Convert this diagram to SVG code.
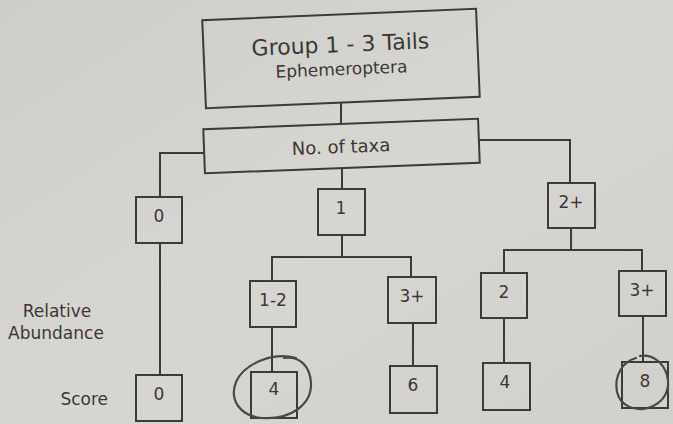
<svg xmlns="http://www.w3.org/2000/svg" width="673" height="424" viewBox="0 0 673 424">
<defs>
<linearGradient id="bg" x1="0" y1="0" x2="1" y2="1">
<stop offset="0" stop-color="#cfcdca"/>
<stop offset="0.5" stop-color="#d8d6d3"/>
<stop offset="1" stop-color="#d2d0cd"/>
</linearGradient>
<style>
.box{fill:none;stroke:#3d3b39;stroke-width:2}
.ln{fill:none;stroke:#3d3b39;stroke-width:2}
.t{font-family:"DejaVu Sans","Liberation Sans",sans-serif;fill:#3a3836;text-anchor:middle}
.n{font-size:17px}
.lab{font-family:"DejaVu Sans","Liberation Sans",sans-serif;fill:#3a3836;font-size:17px}
.pen{fill:none;stroke:#4a4846;stroke-width:2.2;stroke-linecap:round}
</style>
</defs>
<rect width="673" height="424" fill="url(#bg)"/>

<g id="connectors">
<path class="ln" d="M341 102 V124"/>
<path class="ln" d="M204 153 H160 V197"/>
<path class="ln" d="M342 168 V189"/>
<path class="ln" d="M479 140 H570 V183"/>
<path class="ln" d="M160 243 V375"/>
<path class="ln" d="M342 235 V257 M272 281 V257 H411 V277"/>
<path class="ln" d="M272 327 V372"/>
<path class="ln" d="M413 323 V366"/>
<path class="ln" d="M571 228 V250 M504 273 V250 H642 V271"/>
<path class="ln" d="M504 318 V363"/>
<path class="ln" d="M643 316 V362"/>
</g>

<g id="group-title" transform="rotate(-2.4 341 58.5)">
<rect class="box" x="204" y="14.5" width="274" height="88"/>
<text class="t" x="341" y="52" font-size="22">Group 1 - 3 Tails</text>
<text class="t" x="341" y="75" font-size="17">Ephemeroptera</text>
</g>

<g id="no-of-taxa" transform="rotate(-2.2 341.5 146)">
<rect class="box" x="204" y="124" width="275" height="44"/>
<text class="t" x="341" y="153" font-size="18">No. of taxa</text>
</g>

<g id="taxa-0"><rect class="box" x="136" y="197" width="46" height="46"/><text class="t n" x="159" y="222">0</text></g>
<g id="taxa-1"><rect class="box" x="318" y="189" width="47" height="46"/><text class="t n" x="341" y="214">1</text></g>
<g id="taxa-2plus"><rect class="box" x="548" y="183" width="47" height="45"/><text class="t n" x="571" y="208">2+</text></g>

<g id="ab-1-2"><rect class="box" x="250" y="281" width="46" height="46"/><text class="t n" x="273" y="306">1-2</text></g>
<g id="ab-3plus-a"><rect class="box" x="388" y="277" width="48" height="46"/><text class="t n" x="412" y="302">3+</text></g>
<g id="ab-2"><rect class="box" x="481" y="273" width="46" height="45"/><text class="t n" x="504" y="298">2</text></g>
<g id="ab-3plus-b"><rect class="box" x="619" y="271" width="47" height="45"/><text class="t n" x="642" y="296">3+</text></g>

<g id="score-0"><rect class="box" x="136" y="375" width="46" height="46"/><text class="t n" x="159" y="400">0</text></g>
<g id="score-4a"><rect class="box" x="251" y="372" width="46" height="46"/><text class="t n" x="274" y="395">4</text></g>
<g id="score-6"><rect class="box" x="390" y="366" width="47" height="47"/><text class="t n" x="413" y="391">6</text></g>
<g id="score-4b"><rect class="box" x="483" y="363" width="47" height="47"/><text class="t n" x="505" y="388">4</text></g>
<g id="score-8"><rect class="box" x="622" y="362" width="46" height="46"/><text class="t n" x="645" y="387">8</text></g>

<g id="row-labels">
<text class="lab" x="57" y="317" text-anchor="middle">Relative</text>
<text class="lab" x="56" y="339" text-anchor="middle">Abundance</text>
<text class="lab" x="108" y="405" text-anchor="end">Score</text>
</g>

<g id="pen-marks">
<path class="pen" d="M296 358 C275 352 245 362 236 382 C229 400 240 416 262 418 C290 420 312 405 311 383 C310 366 300 356 284 358"/>
<path class="pen" d="M636 358 C622 362 614 376 617 392 C620 405 634 412 648 408 C664 403 671 390 667 375 C663 362 652 354 640 356"/>
</g>
</svg>
